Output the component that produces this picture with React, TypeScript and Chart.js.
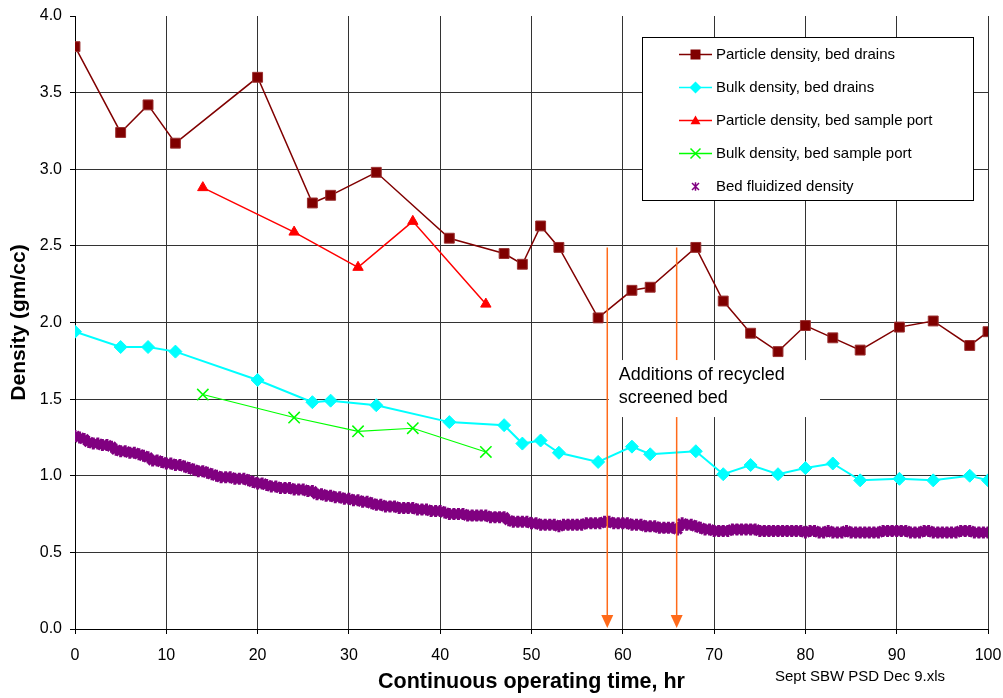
import React, { useEffect, useRef } from "react";
import { Chart, registerables } from "chart.js";

Chart.register(...registerables);

const FONT = "'Liberation Sans', Arial, sans-serif";

// Sampling times (hr) for the bed-drain samples
const drainTimes = [0, 5, 8, 11, 20, 26, 28, 33, 41, 47, 49, 51, 53, 57.3, 61, 63, 68, 71, 74, 77, 80, 83, 86, 90.3, 94, 98, 100];
const particleDrains = [3.8, 3.24, 3.42, 3.17, 3.6, 2.78, 2.83, 2.98, 2.55, 2.45, 2.38, 2.63, 2.49, 2.03, 2.21, 2.23, 2.49, 2.14, 1.93, 1.81, 1.98, 1.9, 1.82, 1.97, 2.01, 1.85, 1.94];
const bulkDrains = [1.94, 1.84, 1.84, 1.81, 1.625, 1.48, 1.49, 1.46, 1.35, 1.33, 1.21, 1.23, 1.15, 1.09, 1.19, 1.14, 1.16, 1.01, 1.07, 1.01, 1.05, 1.08, 0.97, 0.98, 0.97, 1.0, 0.97];

// Sampling times (hr) for the bed sample port
const portTimes = [14, 24, 31, 37, 45];
const particlePort = [2.88, 2.59, 2.36, 2.66, 2.12];
const bulkPort = [1.53, 1.38, 1.29, 1.31, 1.155];

// Fluidized bed density, logged every half hour from 0 to 100 hr
const fluidDensity = [
  1.26, 1.25, 1.24, 1.22, 1.21, 1.21, 1.2, 1.2, 1.19, 1.17,
  1.16, 1.16, 1.15, 1.15, 1.14, 1.13, 1.12, 1.1, 1.1, 1.09,
  1.08, 1.08, 1.07, 1.07, 1.06, 1.05, 1.04, 1.03, 1.03, 1.02,
  1.01, 1.0, 0.99, 0.99, 0.99, 0.98, 0.98, 0.98, 0.97, 0.96,
  0.95, 0.95, 0.94, 0.93, 0.93, 0.92, 0.92, 0.92, 0.91, 0.91,
  0.91, 0.9, 0.9, 0.88, 0.88, 0.87, 0.87, 0.86, 0.86, 0.85,
  0.85, 0.84, 0.84, 0.83, 0.83, 0.82, 0.81, 0.81, 0.8, 0.8,
  0.8, 0.79, 0.79, 0.79, 0.79, 0.78, 0.78, 0.78, 0.77, 0.77,
  0.77, 0.76, 0.75, 0.75, 0.75, 0.75, 0.74, 0.74, 0.74, 0.74,
  0.74, 0.73, 0.73, 0.73, 0.73, 0.71, 0.7, 0.7, 0.7, 0.7,
  0.69, 0.69, 0.68, 0.68, 0.68, 0.68, 0.67, 0.68, 0.68, 0.68,
  0.68, 0.68, 0.69, 0.69, 0.69, 0.69, 0.7, 0.7, 0.69, 0.69,
  0.69, 0.69, 0.68, 0.68, 0.68, 0.67, 0.67, 0.67, 0.66, 0.66,
  0.66, 0.66, 0.65, 0.69, 0.68, 0.68, 0.67, 0.66, 0.65, 0.65,
  0.64, 0.64, 0.64, 0.64, 0.65, 0.65, 0.65, 0.65, 0.65, 0.65,
  0.64, 0.64, 0.64, 0.64, 0.64, 0.64, 0.64, 0.64, 0.64, 0.64,
  0.63, 0.64, 0.64, 0.63, 0.63, 0.64, 0.63, 0.63, 0.63, 0.64,
  0.63, 0.63, 0.63, 0.63, 0.63, 0.63, 0.63, 0.64, 0.64, 0.64,
  0.64, 0.64, 0.64, 0.63, 0.63, 0.63, 0.64, 0.64, 0.63, 0.63,
  0.63, 0.63, 0.63, 0.63, 0.64, 0.64, 0.64, 0.63, 0.63, 0.63,
  0.63,
];
const fluidTimes = fluidDensity.map((_, i) => i * 0.5);

// Times (hr) when recycled screened bed was added, and the top of the marker arrows
const additionTimes = [58.3, 65.9];
const arrowTop = 2.49;
const noteLines = ["Additions of recycled", "screened bed"];
const fileNote = "Sept SBW PSD Dec 9.xls";

const xTicks = [0, 10, 20, 30, 40, 50, 60, 70, 80, 90, 100];
const yTicks = [0, 0.5, 1, 1.5, 2, 2.5, 3, 3.5, 4];

const seriesLabels = [
  "Particle density, bed drains",
  "Bulk density, bed drains",
  "Particle density, bed sample port",
  "Bulk density, bed sample port",
  "Bed fluidized density",
];

const pair = (xs: number[], ys: number[]) => xs.map((x, i) => ({ x, y: ys[i] }));

type Style = "rect" | "rectRot" | "triangle" | "crossRot" | "star";

function drawMarker(ctx: CanvasRenderingContext2D, style: Style, x: number, y: number, r: number, color: string) {
  ctx.save();
  ctx.fillStyle = color;
  ctx.strokeStyle = color;
  ctx.lineWidth = 1.5;
  ctx.beginPath();
  if (style === "rect") {
    ctx.rect(x - r, y - r, 2 * r, 2 * r);
    ctx.fill();
  } else if (style === "rectRot") {
    ctx.moveTo(x, y - r);
    ctx.lineTo(x + r, y);
    ctx.lineTo(x, y + r);
    ctx.lineTo(x - r, y);
    ctx.closePath();
    ctx.fill();
  } else if (style === "triangle") {
    ctx.moveTo(x, y - r);
    ctx.lineTo(x + r, y + r * 0.75);
    ctx.lineTo(x - r, y + r * 0.75);
    ctx.closePath();
    ctx.fill();
  } else if (style === "crossRot") {
    ctx.moveTo(x - r, y - r);
    ctx.lineTo(x + r, y + r);
    ctx.moveTo(x + r, y - r);
    ctx.lineTo(x - r, y + r);
    ctx.stroke();
  } else {
    ctx.moveTo(x - r, y - r);
    ctx.lineTo(x + r, y + r);
    ctx.moveTo(x + r, y - r);
    ctx.lineTo(x - r, y + r);
    ctx.moveTo(x, y - r * 1.2);
    ctx.lineTo(x, y + r * 1.2);
    ctx.stroke();
  }
  ctx.restore();
}

const legendEntries: { color: string; style: Style; line: boolean; size: number }[] = [
  { color: "#800000", style: "rect", line: true, size: 5 },
  { color: "#00FFFF", style: "rectRot", line: true, size: 6 },
  { color: "#FF0000", style: "triangle", line: true, size: 5 },
  { color: "#00FF00", style: "crossRot", line: true, size: 5 },
  { color: "#800080", style: "star", line: false, size: 3.5 },
];

const overlayPlugin = {
  id: "overlay",
  afterDatasetsDraw(chart: any) {
    const { ctx, scales } = chart;
    const xs = scales.x;
    const ys = scales.y;
    ctx.save();
    // addition arrows
    ctx.strokeStyle = "#FF6A1A";
    ctx.fillStyle = "#FF6A1A";
    ctx.lineWidth = 1.5;
    additionTimes.forEach((t) => {
      const px = xs.getPixelForValue(t);
      const top = ys.getPixelForValue(arrowTop);
      const tip = ys.getPixelForValue(0) - 1;
      ctx.beginPath();
      ctx.moveTo(px, top);
      ctx.lineTo(px, tip - 10);
      ctx.stroke();
      ctx.beginPath();
      ctx.moveTo(px - 6, tip - 13);
      ctx.lineTo(px + 6, tip - 13);
      ctx.lineTo(px, tip);
      ctx.closePath();
      ctx.fill();
    });
    // note box
    const bx0 = xs.getPixelForValue(58.3) + 1.5;
    const bx1 = xs.getPixelForValue(81.6);
    const by0 = ys.getPixelForValue(1.755);
    const by1 = ys.getPixelForValue(1.383);
    ctx.fillStyle = "#FFFFFF";
    ctx.fillRect(bx0, by0, bx1 - bx0, by1 - by0);
    ctx.fillStyle = "#000";
    ctx.font = `18px ${FONT}`;
    ctx.textBaseline = "middle";
    ctx.textAlign = "left";
    noteLines.forEach((line, i) => {
      ctx.fillText(line, bx0 + 10, by0 + 15 + i * 23);
    });
    ctx.restore();
  },
  afterDraw(chart: any) {
    const { ctx } = chart;
    ctx.save();
    // legend
    const lx = 642.5;
    const ly = 37.5;
    ctx.fillStyle = "#FFFFFF";
    ctx.fillRect(lx, ly, 331, 163);
    ctx.strokeStyle = "#000";
    ctx.lineWidth = 1;
    ctx.strokeRect(lx, ly, 331, 163);
    ctx.font = `15px ${FONT}`;
    ctx.textBaseline = "middle";
    ctx.textAlign = "left";
    legendEntries.forEach((e, i) => {
      const y = 54.5 + i * 33;
      if (e.line) {
        ctx.strokeStyle = e.color;
        ctx.lineWidth = 1.5;
        ctx.beginPath();
        ctx.moveTo(679, y);
        ctx.lineTo(712, y);
        ctx.stroke();
      }
      drawMarker(ctx, e.style, 695.5, y, e.size, e.color);
      ctx.fillStyle = "#000";
      ctx.fillText(seriesLabels[i], 716, y + 0.5);
    });
    // file reference
    ctx.font = `15px ${FONT}`;
    ctx.fillStyle = "#000";
    ctx.fillText(fileNote, 775, 677);
    ctx.restore();
  },
};

export default function App() {
  const ref = useRef<HTMLCanvasElement>(null);

  useEffect(() => {
    const canvas = ref.current;
    if (!canvas) return;
    const chart = new Chart(canvas, {
      type: "line",
      data: {
        datasets: [
          {
            label: seriesLabels[0],
            data: pair(drainTimes, particleDrains),
            borderColor: "#800000",
            backgroundColor: "#800000",
            borderWidth: 1.5,
            pointStyle: "rect",
            pointRadius: 7,
            pointBorderWidth: 1,
            pointBorderColor: "#9a3030",
            pointBackgroundColor: "#800000",
          },
          {
            label: seriesLabels[1],
            data: pair(drainTimes, bulkDrains),
            borderColor: "#00FFFF",
            backgroundColor: "#00FFFF",
            borderWidth: 2,
            pointStyle: "rectRot",
            pointRadius: 6.5,
            pointBorderWidth: 1,
            pointBackgroundColor: "#00FFFF",
          },
          {
            label: seriesLabels[2],
            data: pair(portTimes, particlePort),
            borderColor: "#FF0000",
            backgroundColor: "#FF0000",
            borderWidth: 1.5,
            pointStyle: "triangle",
            pointRadius: 6,
            pointBorderWidth: 1,
            pointBackgroundColor: "#FF0000",
          },
          {
            label: seriesLabels[3],
            data: pair(portTimes, bulkPort),
            borderColor: "#00FF00",
            backgroundColor: "#00FF00",
            borderWidth: 1.2,
            pointStyle: "crossRot",
            pointRadius: 8,
            pointBorderWidth: 1.5,
          },
          {
            label: seriesLabels[4],
            data: pair(fluidTimes, fluidDensity),
            borderColor: "#800080",
            backgroundColor: "#800080",
            showLine: false,
            pointStyle: "star",
            pointRadius: 6,
            pointBorderWidth: 3,
          },
        ],
      },
      options: {
        responsive: false,
        animation: false,
        devicePixelRatio: 1,
        layout: { padding: { top: 16, right: 15, left: 0, bottom: 0 } },
        plugins: {
          legend: { display: false },
          tooltip: { enabled: false },
        },
        scales: {
          x: {
            type: "linear",
            min: 0,
            max: 100,
            afterBuildTicks: (s: any) => {
              s.ticks = xTicks.map((v) => ({ value: v }));
            },
            afterFit: (s: any) => {
              s.height = 69;
              s.paddingLeft = 0;
              s.paddingRight = 0;
            },
            ticks: {
              color: "#000",
              font: { family: FONT, size: 16 },
              padding: 12,
              maxRotation: 0,
            },
            grid: { color: "#333", lineWidth: 1, tickLength: 5, tickColor: "#000" },
            border: { display: true, color: "#000", width: 1 },
            title: {
              display: true,
              text: "Continuous operating time, hr",
              color: "#000",
              font: { family: FONT, size: 21.5, weight: "bold" },
              padding: { top: 0, bottom: 3 },
            },
          },
          y: {
            type: "linear",
            min: 0,
            max: 4,
            afterBuildTicks: (s: any) => {
              s.ticks = yTicks.map((v) => ({ value: v }));
            },
            afterFit: (s: any) => {
              s.width = 75;
              s.paddingTop = 0;
              s.paddingBottom = 0;
            },
            ticks: {
              color: "#000",
              font: { family: FONT, size: 16 },
              padding: 8,
              callback: (v: any) => Number(v).toFixed(1),
            },
            grid: {
              color: (c: any) => (c.tick && c.tick.value === 4 ? "rgba(0,0,0,0)" : "#333"),
              lineWidth: 1,
              tickLength: 5,
              tickColor: "#000",
            },
            border: { display: true, color: "#000", width: 1 },
            title: {
              display: true,
              text: "Density (gm/cc)",
              color: "#000",
              font: { family: FONT, size: 21, weight: "bold" },
              padding: { top: 7, bottom: 0 },
            },
          },
        },
      },
      plugins: [overlayPlugin],
    } as any);
    return () => chart.destroy();
  }, []);

  return (
    <div style={{ position: "absolute", left: 0, top: 0, width: 1003, height: 698, background: "#fff" }}>
      <canvas ref={ref} width={1003} height={698} style={{ display: "block", width: 1003, height: 698 }} />
    </div>
  );
}
